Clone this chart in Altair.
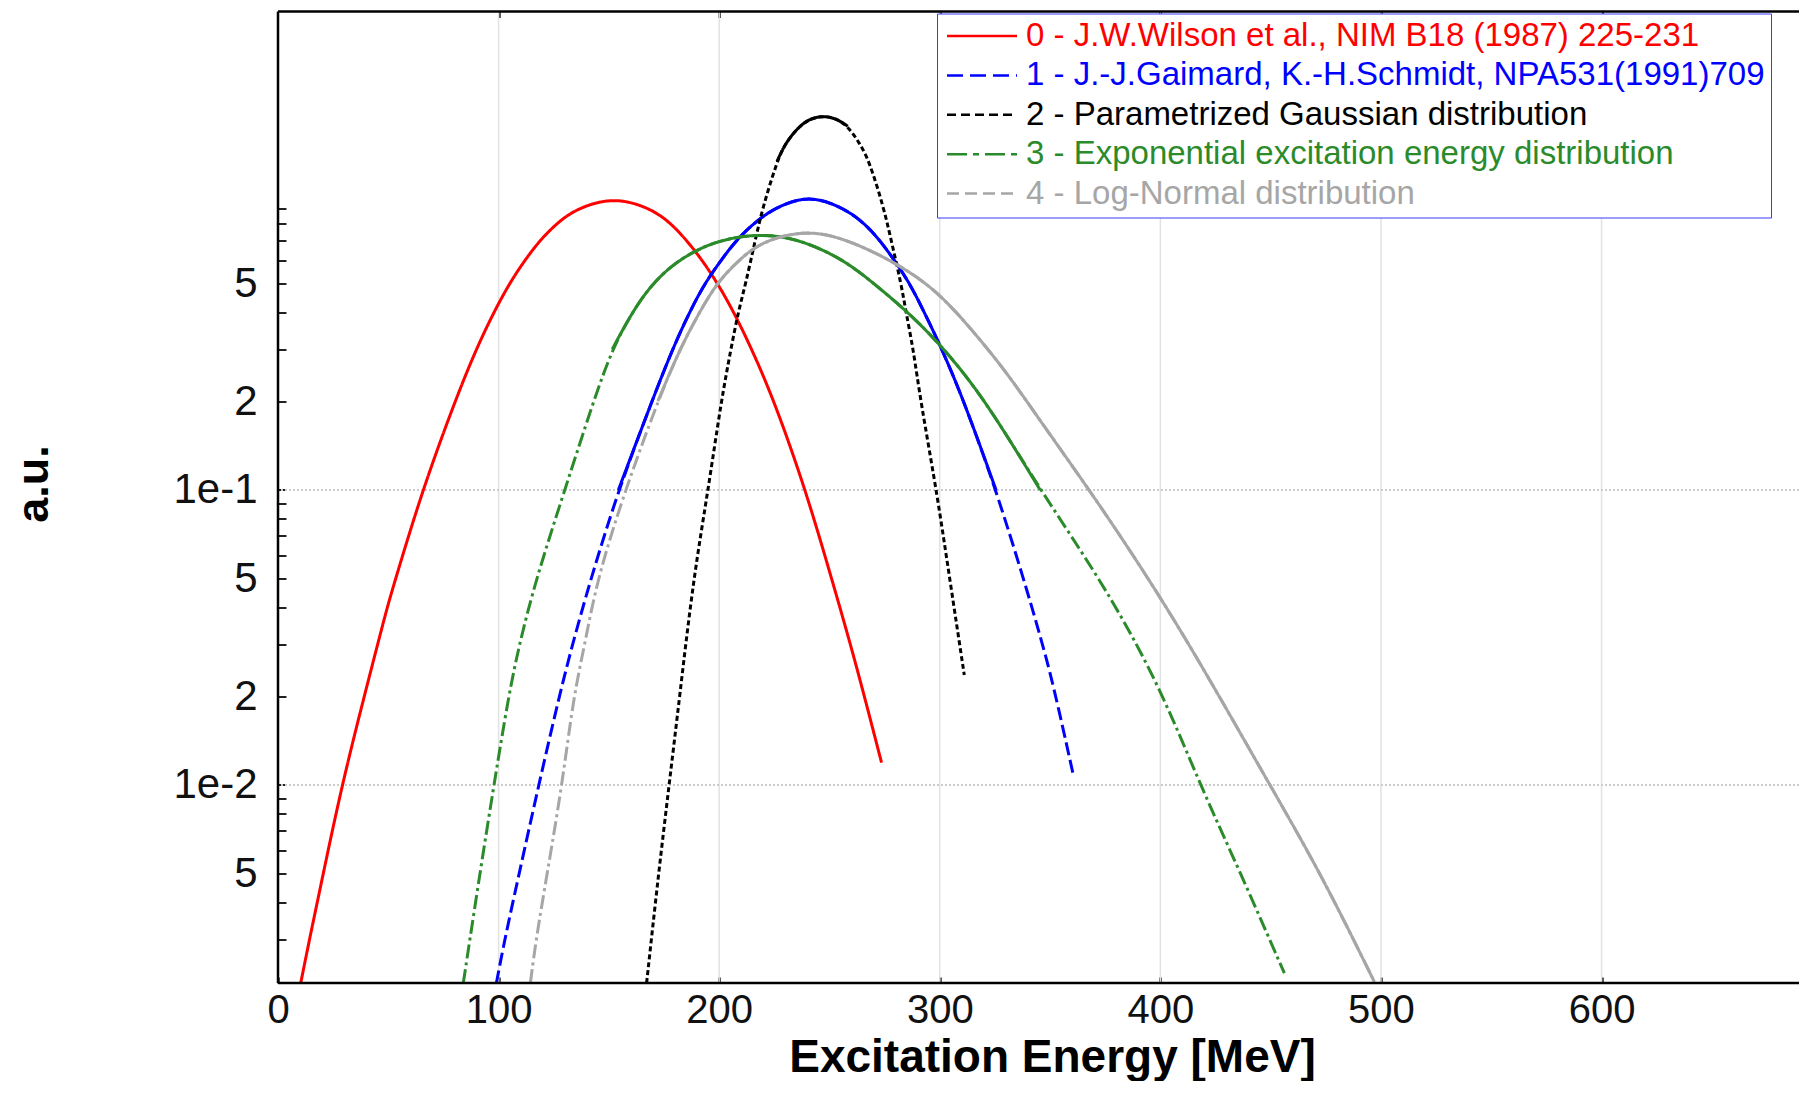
import altair as alt
import pandas as pd

NAMES = [
    "0 - J.W.Wilson et al., NIM B18 (1987) 225-231",
    "1 - J.-J.Gaimard, K.-H.Schmidt, NPA531(1991)709",
    "2 - Parametrized Gaussian distribution",
    "3 - Exponential excitation energy distribution",
    "4 - Log-Normal distribution",
]
COLORS = ["#ff0000", "#0000ff", "#000000", "#2b8b2b", "#a6a6a6"]

# Series values (E in MeV, value in a.u.)
E0 = [10.3, 14.3, 17.8, 20.5, 29.0, 39.1, 45.2, 49.5, 53.3, 65.5, 80.2, 89.8, 97.8, 104.8,
      111.8, 118.6, 126.2, 135.2, 152.4, 169.2, 178.3, 185.4, 192.4, 199.4, 206.7, 214.8,
      225.0, 239.2, 251.0, 259.5, 265.8, 273.6]
V0 = [0.00213, 0.003, 0.004, 0.005, 0.01, 0.02, 0.03, 0.04, 0.05, 0.1, 0.2, 0.3, 0.4, 0.5,
      0.6, 0.7, 0.8, 0.9, 0.987, 0.9, 0.8, 0.7, 0.6, 0.5, 0.4, 0.3,
      0.2, 0.1, 0.05, 0.03, 0.02, 0.0119]

E1 = [99.0, 102.8, 109.3, 118.2, 127.5, 133.5, 141.8, 154.3, 169.5, 178.8, 186.5, 193.3,
      200.8, 207.5, 215.5, 224.5, 240.6, 257.0, 266.0, 273.0, 279.5, 286.5, 293.0, 301.0,
      311.0, 325.5, 338.0, 345.0, 351.0, 360.3]
V1 = [0.00213, 0.003, 0.005, 0.01, 0.02, 0.03, 0.05, 0.1, 0.2, 0.3, 0.4, 0.5,
      0.6, 0.7, 0.8, 0.9, 1.005, 0.9, 0.8, 0.7, 0.6, 0.5, 0.4, 0.3,
      0.2, 0.1, 0.05, 0.033, 0.0227, 0.011]

E2 = [167.1, 172.5, 177.3, 182.1, 188.3, 195.0, 200.9, 205.3, 208.6, 212.0, 216.3, 219.6,
      226.2, 230.0, 236.2, 241.5, 247.2, 253.0, 258.3, 263.7, 268.1, 274.7, 278.0, 282.5,
      284.7, 288.0, 291.3, 298.5, 304.5, 311.1]
V2 = [0.00213, 0.005, 0.01, 0.02, 0.05, 0.1, 0.2, 0.3, 0.4, 0.5, 0.7, 0.9,
      1.3, 1.5, 1.71, 1.82, 1.854, 1.82, 1.71, 1.5, 1.3, 0.9, 0.7, 0.5,
      0.4, 0.3, 0.2, 0.1, 0.05, 0.0236]

E3 = [84.0, 91.5, 97.9, 104.5, 109.4, 117.0, 130.0, 143.0, 151.5, 160.5, 169.5, 181.0,
      197.6, 219.6, 238.4, 257.0, 270.3, 285.8, 302.3, 321.0, 345.5, 373.0, 398.5, 418.0,
      436.5, 456.2]
V3 = [0.00213, 0.005, 0.01, 0.02, 0.03, 0.05, 0.1, 0.2, 0.3, 0.4, 0.5, 0.6,
      0.7, 0.745, 0.7, 0.6, 0.5, 0.4, 0.3, 0.2, 0.1, 0.0496, 0.0227, 0.01,
      0.005, 0.0023]

E4 = [114.4, 117.0, 122.0, 128.8, 134.0, 139.1, 144.7, 157.4, 172.2, 182.1, 191.0, 198.7,
      208.6, 219.6, 240.6, 259.3, 278.0, 294.6, 308.0, 329.4, 344.9, 371.1, 400.0, 422.5,
      449.6, 472.8, 497.0]
V4 = [0.00213, 0.003, 0.005, 0.01, 0.02, 0.03, 0.05, 0.1, 0.2, 0.3, 0.4, 0.5,
      0.6, 0.7, 0.765, 0.7, 0.6, 0.5, 0.4, 0.257, 0.174, 0.0925, 0.0435, 0.0227,
      0.01, 0.005, 0.00215]

SERIES = [(E0, V0), (E1, V1), (E2, V2), (E3, V3), (E4, V4)]

# axis ticks / grid
X_TICKS = [0, 100, 200, 300, 400, 500, 600]
X_GRID = [100, 200, 300, 400, 500, 600]
Y_GRID = [0.01, 0.1]
Y_TICKS = ([round(m * 0.001, 6) for m in range(3, 10)] + [0.01] +
           [round(m * 0.01, 6) for m in range(2, 10)] + [0.1] +
           [round(m * 0.1, 6) for m in range(2, 10)])
X_DOMAIN = [0, 689.5]
Y_DOMAIN = [0.00213, 4.19]

# styles: tails dashed, central part of each curve drawn solid (as in the original rendering)
LINE_DASH = [[1, 0], [13, 5], [5, 3], [14, 4, 3, 4], [14, 4, 3, 4]]
LEG_DASH = [[1, 0], [16, 7], [9, 5], [20, 6, 6, 6], [12, 6]]
CORE = [None, (150, 330), (226, 262), (148, 350), (165, 1000)]
FONT = "Liberation Sans"

rows = []
for k, (E, V) in enumerate(SERIES):
    for e, v in zip(E, V):
        rows.append(dict(series=NAMES[k], E=e, V=v, grp=f"{k}-all",
                         dash="solid" if CORE[k] is None else f"d{k}"))
    if CORE[k] is not None:
        lo, hi = CORE[k]
        for e, v in zip(E, V):
            if lo <= e <= hi:
                rows.append(dict(series=NAMES[k], E=e, V=v, grp=f"{k}-core", dash="solid"))
df = pd.DataFrame(rows)

DASH_KEYS = ["solid"] + [f"d{k}" for k in range(5)]
DASH_RANGE = [[1, 0]] + LINE_DASH

names_js = "[" + ",".join("'" + n + "'" for n in NAMES) + "]"
colors_js = "[" + ",".join("'" + c + "'" for c in COLORS) + "]"
dash_js = "[" + ",".join("[" + ",".join(str(x) for x in d) + "]" for d in LEG_DASH) + "]"

xscale = alt.Scale(domain=X_DOMAIN, nice=False, zero=False)
yscale = alt.Scale(type="log", domain=Y_DOMAIN, nice=False)

xaxis = alt.Axis(
    values=X_TICKS, grid=False, domain=False, offset=-6, tickSize=6, tickWidth=2.5,
    tickColor="#222222", labelFont=FONT, labelFontSize=40, labelColor="#111111",
    labelPadding=7, labelFlush=False, labelOverlap=False,
    title="Excitation Energy [MeV]", titleFont=FONT, titleFontSize=46,
    titleFontWeight="bold", titleColor="#000000", titleX=774, titleY=94,
    titleAlign="center", titleBaseline="alphabetic",
)
xaxis_top = alt.Axis(
    orient="top", values=X_GRID, grid=False, domain=False, labels=False, title=None,
    offset=-6, tickSize=6, tickWidth=2.5, tickColor="#222222",
)
label_expr = ("datum.value == 0.1 ? '1e-1' : datum.value == 0.01 ? '1e-2' : "
              "(slice(format(datum.value, '.0e'), 0, 1) == '5' || slice(format(datum.value, '.0e'), 0, 1) == '2')"
              " ? slice(format(datum.value, '.0e'), 0, 1) : ''")
yaxis = alt.Axis(
    values=Y_TICKS, labelExpr=label_expr, grid=False, domain=False, offset=-8, tickSize=8,
    tickWidth=2, tickColor="#222222", labelFont=FONT, labelFontSize=42,
    labelColor="#111111", labelPadding=21, labelOverlap=False,
    title="a.u.", titleFont=FONT, titleFontSize=45, titleFontWeight="bold",
    titleColor="#000000", titleAngle=270, titleX=-253, titleY=472,
    titleAlign="center", titleBaseline="middle",
)

legend = alt.Legend(
    orient="none", legendX=659, legendY=2, direction="vertical", title=None,
    symbolType="M-0.8333,0H3.8333", symbolSize=900, symbolStrokeWidth=2.5,
    symbolDash={"expr": dash_js + "[indexof(" + names_js + ", datum.value)]"},
    labelColor={"expr": colors_js + "[indexof(" + names_js + ", datum.value)]"},
    labelFont=FONT, labelFontSize=33, labelLimit=3000, labelOffset=50,
    padding=6, rowPadding=5.4, strokeColor="#3a3aff", fillColor="#ffffff",
)

vgrid = alt.Chart(pd.DataFrame({"E": X_GRID})).mark_rule(
    color="#e2e2e2", strokeWidth=1.5).encode(x=alt.X("E:Q", scale=xscale, axis=xaxis_top))
hgrid = alt.Chart(pd.DataFrame({"V": Y_GRID})).mark_rule(
    color="#cccccc", strokeWidth=2, strokeDash=[2, 2]).encode(y=alt.Y("V:Q", scale=yscale))

lines = alt.Chart(df).mark_line(strokeWidth=3, interpolate="basis", clip=True).encode(
    x=alt.X("E:Q", scale=xscale, axis=xaxis),
    y=alt.Y("V:Q", scale=yscale, axis=yaxis),
    color=alt.Color("series:N", scale=alt.Scale(domain=NAMES, range=COLORS), legend=legend),
    strokeDash=alt.StrokeDash("dash:N", scale=alt.Scale(domain=DASH_KEYS, range=DASH_RANGE), legend=None),
    detail="grp:N",
)

left_border = alt.Chart(pd.DataFrame({"E": [X_DOMAIN[0]]})).mark_rule(
    color="#000000", strokeWidth=2.5).encode(x=alt.X("E:Q", scale=xscale, axis=None))
hb = alt.Chart(pd.DataFrame({"V": Y_DOMAIN})).mark_rule(
    color="#000000", strokeWidth=2.5).encode(y=alt.Y("V:Q", scale=yscale))

chart = alt.layer(vgrid, hgrid, lines, left_border, hb).resolve_axis(x="independent").properties(
    width=1521, height=971.5,
    autosize=alt.AutoSizeParams(type="none"),
    padding={"left": 270, "top": 3.5, "right": 0, "bottom": 98},
    background="#ffffff",
).configure_view(stroke=None)

chart.save("out.html", embed_options={"renderer": "svg", "actions": False})
